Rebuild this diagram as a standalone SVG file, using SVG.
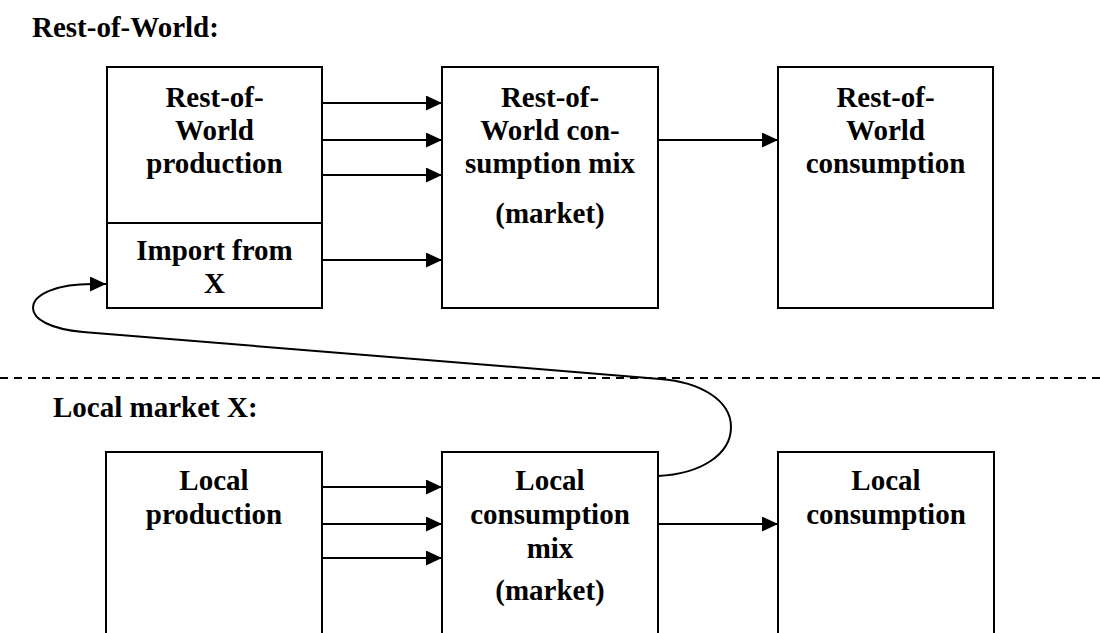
<svg xmlns="http://www.w3.org/2000/svg" width="1100" height="633" viewBox="0 0 1100 633">
  <style>
    .box { fill: #ffffff; stroke: #000000; stroke-width: 2; }
    .lbl { font-family: "Liberation Serif", "Times New Roman", serif; font-weight: bold; font-size: 29px; fill: #000000; text-anchor: middle; }
    .title { font-family: "Liberation Serif", "Times New Roman", serif; font-weight: bold; font-size: 29px; fill: #000000; }
    .flow { fill: none; stroke: #000000; stroke-width: 2; marker-end: url(#head); }
    .sep { fill: none; stroke: #000000; stroke-width: 2; stroke-dasharray: 8 6; }
  </style>
  <defs>
    <marker id="head" markerUnits="userSpaceOnUse" markerWidth="17" markerHeight="15" refX="16" refY="7.5" orient="auto">
      <path d="M0,0 L16,7.5 L0,15 Z" fill="#000000"/>
    </marker>
  </defs>

  <rect x="0" y="0" width="1100" height="633" fill="#ffffff"/>

  <!-- region headings and divider -->
  <text class="title" x="32" y="37">Rest-of-World:</text>
  <text class="title" x="53" y="417">Local market X:</text>
  <line class="sep" x1="0" y1="378" x2="1100" y2="378"/>

  <!-- Rest-of-World row -->
  <g id="row-production">
    <rect class="box" x="107" y="67" width="215" height="241"/>
    <line x1="107" y1="223" x2="322" y2="223" stroke="#000000" stroke-width="2"/>
    <text class="lbl" x="214.5" y="107">Rest-of-</text>
    <text class="lbl" x="214.5" y="140">World</text>
    <text class="lbl" x="214.5" y="173">production</text>
    <text class="lbl" x="214.5" y="260">Import from</text>
    <text class="lbl" x="214.5" y="293">X</text>
  </g>
  <g id="row-mix">
    <rect class="box" x="442" y="67" width="216" height="241"/>
    <text class="lbl" x="550" y="107">Rest-of-</text>
    <text class="lbl" x="550" y="140">World con-</text>
    <text class="lbl" x="550" y="173">sumption mix</text>
    <text class="lbl" x="550" y="223">(market)</text>
  </g>
  <g id="row-consumption">
    <rect class="box" x="778" y="67" width="215" height="241"/>
    <text class="lbl" x="885.5" y="107">Rest-of-</text>
    <text class="lbl" x="885.5" y="140">World</text>
    <text class="lbl" x="885.5" y="173">consumption</text>
  </g>

  <!-- Local market row -->
  <g id="local-production">
    <rect class="box" x="106" y="452" width="216" height="200"/>
    <text class="lbl" x="214" y="490">Local</text>
    <text class="lbl" x="214" y="524">production</text>
  </g>
  <g id="local-mix">
    <rect class="box" x="442" y="452" width="216" height="200"/>
    <text class="lbl" x="550" y="490">Local</text>
    <text class="lbl" x="550" y="524">consumption</text>
    <text class="lbl" x="550" y="558">mix</text>
    <text class="lbl" x="550" y="600">(market)</text>
  </g>
  <g id="local-consumption">
    <rect class="box" x="778" y="452" width="216" height="200"/>
    <text class="lbl" x="886" y="490">Local</text>
    <text class="lbl" x="886" y="524">consumption</text>
  </g>

  <!-- connectors -->
  <g id="connectors">
    <line class="flow" x1="322" y1="103" x2="442" y2="103"/>
    <line class="flow" x1="322" y1="140" x2="442" y2="140"/>
    <line class="flow" x1="322" y1="175" x2="442" y2="175"/>
    <line class="flow" x1="322" y1="260" x2="442" y2="260"/>
    <line class="flow" x1="658" y1="140" x2="778" y2="140"/>

    <line class="flow" x1="322" y1="487" x2="442" y2="487"/>
    <line class="flow" x1="322" y1="524" x2="442" y2="524"/>
    <line class="flow" x1="322" y1="558" x2="442" y2="558"/>
    <line class="flow" x1="658" y1="524" x2="778" y2="524"/>

    <!-- export loop: local mix back to the import slot -->
    <path class="flow" d="M658,476 C700,474 731,455 731,427 C731,400 700,382 660,379 L83,332 C50,329 33,319 33,308 C33,293 60,284 92,284 L106,284"/>
  </g>
</svg>
